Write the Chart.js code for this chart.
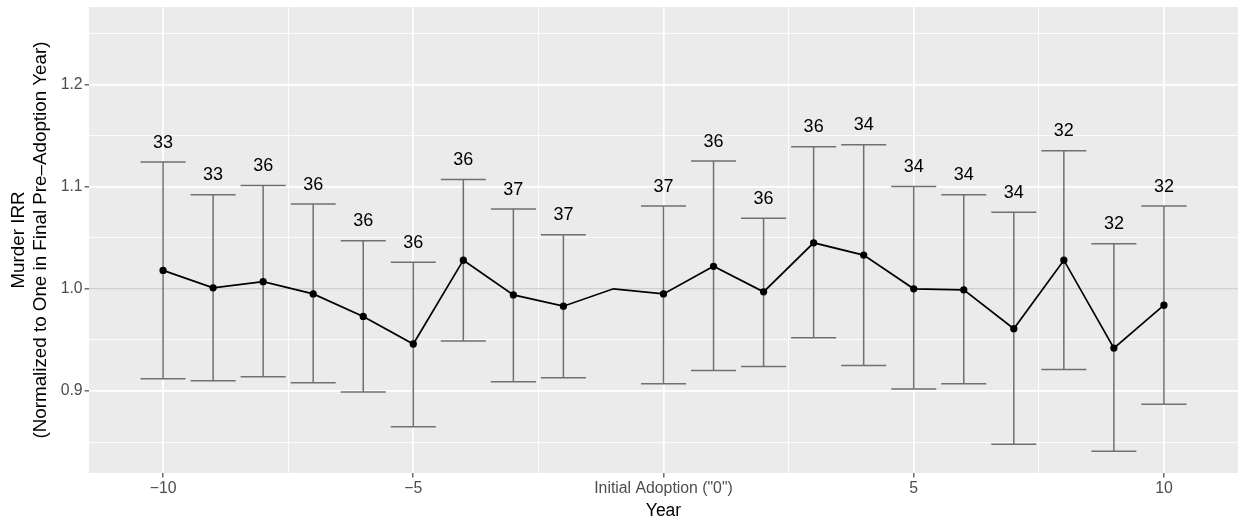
<!DOCTYPE html>
<html>
<head>
<meta charset="utf-8">
<script src="https://cdn.jsdelivr.net/npm/chart.js@4"></script>
<style>
  html, body { margin: 0; padding: 0; background: #fff; overflow: hidden; }
  canvas { display: block; }
</style>
</head>
<body>
<canvas id="irrChart" width="1238" height="523"></canvas>
<script>
// years relative to initial adoption
const years = [-10, -9, -8, -7, -6, -5, -4, -3, -2, -1, 0, 1, 2, 3, 4, 5, 6, 7, 8, 9, 10];
// point estimates
const irr = [1.018, 1.001, 1.007, 0.995, 0.973, 0.946, 1.028, 0.994, 0.983, 1.000, 0.995,
             1.022, 0.997, 1.045, 1.033, 1.000, 0.999, 0.961, 1.028, 0.942, 0.984];
const lower = [0.912, 0.910, 0.914, 0.908, 0.899, 0.865, 0.949, 0.909, 0.913, null, 0.907,
               0.920, 0.924, 0.952, 0.925, 0.902, 0.907, 0.848, 0.921, 0.841, 0.887];
const upper = [1.124, 1.092, 1.101, 1.083, 1.047, 1.026, 1.107, 1.078, 1.053, null, 1.081,
               1.125, 1.069, 1.139, 1.141, 1.100, 1.092, 1.075, 1.135, 1.044, 1.081];
// number of states behind each estimate
const nStates = [33, 33, 36, 36, 36, 36, 36, 37, 37, null, 37,
                 36, 36, 36, 34, 34, 34, 34, 32, 32, 32];

const xTicks = [-10, -7.5, -5, -2.5, 0, 2.5, 5, 7.5, 10];
const yTicks = [0.85, 0.9, 0.95, 1.0, 1.05, 1.1, 1.15, 1.2, 1.25];
const xLabels = { '-10': '\u221210', '-5': '\u22125', '0': 'Initial Adoption ("0")', '5': '5', '10': '10' };
const yLabels = { '0.9': '0.9', '1': '1.0', '1.1': '1.1', '1.2': '1.2' };

const FONT = '"Liberation Sans", Arial, Helvetica, sans-serif';

const isMajor = v => Math.abs(v % 5) < 1e-6;

const ggPlugin = {
  id: 'gg',
  beforeDraw(chart) {
    const { ctx, chartArea: a } = chart;
    ctx.save();
    ctx.fillStyle = '#EBEBEB';
    ctx.fillRect(a.left, a.top, a.right - a.left, a.bottom - a.top);
    ctx.restore();
  },
  beforeDatasetsDraw(chart) {
    const { ctx, chartArea: a, scales: { x, y } } = chart;
    ctx.save();
    ctx.beginPath();
    ctx.rect(a.left, a.top, a.right - a.left, a.bottom - a.top);
    ctx.clip();
    // reference line at 1
    ctx.strokeStyle = 'rgba(150,150,150,0.45)';
    ctx.lineWidth = 1.6;
    ctx.beginPath();
    ctx.moveTo(a.left, y.getPixelForValue(1));
    ctx.lineTo(a.right, y.getPixelForValue(1));
    ctx.stroke();
    // error bars
    ctx.strokeStyle = '#707070';
    ctx.lineWidth = 1.5;
    years.forEach((yr, i) => {
      if (lower[i] == null) return;
      const xc = x.getPixelForValue(yr);
      const x0 = x.getPixelForValue(yr - 0.45);
      const x1 = x.getPixelForValue(yr + 0.45);
      const yl = y.getPixelForValue(lower[i]);
      const yu = y.getPixelForValue(upper[i]);
      ctx.beginPath();
      ctx.moveTo(xc, yl); ctx.lineTo(xc, yu);
      ctx.moveTo(x0, yl); ctx.lineTo(x1, yl);
      ctx.moveTo(x0, yu); ctx.lineTo(x1, yu);
      ctx.stroke();
    });
    ctx.restore();
  },
  afterDatasetsDraw(chart) {
    const { ctx, scales: { x, y } } = chart;
    ctx.save();
    ctx.fillStyle = '#000';
    ctx.font = '18px ' + FONT;
    ctx.textAlign = 'center';
    ctx.textBaseline = 'middle';
    years.forEach((yr, i) => {
      if (nStates[i] == null) return;
      ctx.fillText(String(nStates[i]), x.getPixelForValue(yr), y.getPixelForValue(upper[i] + 0.019));
    });
    ctx.restore();
  },
  afterDraw(chart) {
    const { ctx, chartArea: a } = chart;
    ctx.save();
    ctx.fillStyle = '#000';
    ctx.textAlign = 'center';
    ctx.font = '17.5px ' + FONT;
    ctx.textBaseline = 'alphabetic';
    ctx.fillText('Year', (a.left + a.right) / 2, 516);
    ctx.font = '18.8px ' + FONT;
    ctx.textBaseline = 'middle';
    const cy = (a.top + a.bottom) / 2;
    ctx.translate(0, cy);
    ctx.rotate(-Math.PI / 2);
    ctx.fillText('Murder IRR', 0, 18.5);
    ctx.fillText('(Normalized to One in Final Pre\u2013Adoption Year)', 0, 41);
    ctx.restore();
  }
};

const ctx = document.getElementById('irrChart').getContext('2d');

let irrChart = new Chart(ctx, {
  type: 'line',
  data: {
    datasets: [{
      data: years.map((yr, i) => ({ x: yr, y: irr[i] })),
      borderColor: '#000',
      backgroundColor: '#000',
      borderWidth: 1.7,
      pointRadius: years.map((yr, i) => (lower[i] == null ? 0 : 2.8)),
      pointHoverRadius: 0,
      tension: 0,
      fill: false
    }]
  },
  options: {
    responsive: false,
    animation: false,
    devicePixelRatio: 1,
    layout: { autoPadding: false, padding: { top: 7, left: 0, right: 0, bottom: 0 } },
    plugins: { legend: { display: false }, tooltip: { enabled: false } },
    scales: {
      x: {
        type: 'linear',
        min: -11.48,
        max: 11.48,
        afterBuildTicks: s => { s.ticks = xTicks.map(v => ({ value: v })); },
        afterFit: s => { s.height = 50; s.paddingLeft = 0; s.paddingRight = 0; },
        border: { display: false },
        grid: {
          color: '#FFFFFF',
          lineWidth: c => (isMajor(c.tick.value) ? 1.7 : 0.85),
          tickColor: c => (isMajor(c.tick.value) ? '#333333' : 'rgba(0,0,0,0)'),
          tickLength: 4.4,
          tickWidth: 1.1
        },
        ticks: {
          autoSkip: false,
          maxRotation: 0,
          padding: 2,
          color: '#4D4D4D',
          font: { family: FONT, size: 15.8 },
          callback: v => xLabels[String(v)] || ''
        }
      },
      y: {
        type: 'linear',
        min: 0.8198,
        max: 1.2757,
        afterBuildTicks: s => { s.ticks = yTicks.map(v => ({ value: v })); },
        afterFit: s => { s.width = 89; s.paddingTop = 0; s.paddingBottom = 0; },
        border: { display: false },
        grid: {
          color: '#FFFFFF',
          lineWidth: c => (Math.round(c.tick.value * 100) % 10 === 0 ? 1.7 : 0.85),
          tickColor: c => (Math.round(c.tick.value * 100) % 10 === 0 ? '#333333' : 'rgba(0,0,0,0)'),
          tickLength: 4.4,
          tickWidth: 1.1
        },
        ticks: {
          autoSkip: false,
          padding: 2,
          color: '#4D4D4D',
          font: { family: FONT, size: 15.8 },
          callback: v => yLabels[String(Math.round(v * 100) / 100)] || ''
        }
      }
    }
  },
  plugins: [ggPlugin]
});
</script>
</body>
</html>
